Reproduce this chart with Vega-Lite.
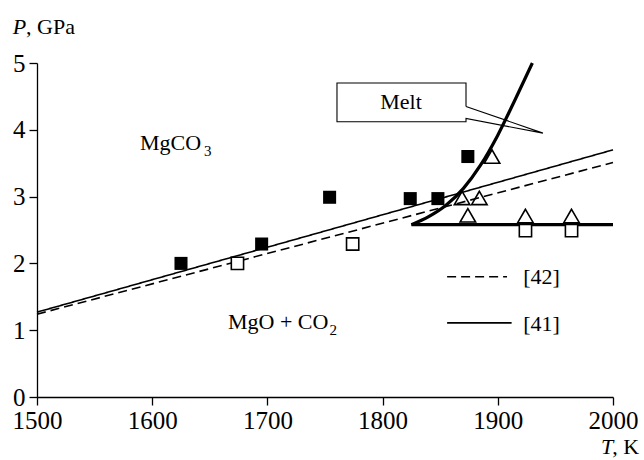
{
  "$schema": "https://vega.github.io/schema/vega-lite/v6.json",
  "width": 576,
  "height": 334,
  "autosize": {"type": "none"},
  "padding": {"left": 37, "top": 63, "right": 31, "bottom": 63},
  "background": "white",
  "config": {
    "view": {"stroke": null},
    "font": "Liberation Serif",
    "text": {"font": "Liberation Serif"},
    "axis": {
      "grid": false,
      "domainColor": "black",
      "domainWidth": 1.3,
      "title": null
    }
  },
  "datasets": {
    "lines": [
      {"T": 1500, "P": 1.27, "src": "[41]"},
      {"T": 2000, "P": 3.70, "src": "[41]"},
      {"T": 1500, "P": 1.24, "src": "[42]"},
      {"T": 2000, "P": 3.51, "src": "[42]"}
    ],
    "melt": [
      {"T": 1825, "P": 2.58, "part": "curve", "i": 0},
      {"T": 1840, "P": 2.70, "part": "curve", "i": 1},
      {"T": 1855, "P": 2.87, "part": "curve", "i": 2},
      {"T": 1870, "P": 3.12, "part": "curve", "i": 3},
      {"T": 1885, "P": 3.47, "part": "curve", "i": 4},
      {"T": 1900, "P": 3.92, "part": "curve", "i": 5},
      {"T": 1915, "P": 4.45, "part": "curve", "i": 6},
      {"T": 1930, "P": 5.0, "part": "curve", "i": 7},
      {"T": 1825, "P": 2.58, "part": "flat", "i": 0},
      {"T": 2000, "P": 2.58, "part": "flat", "i": 1}
    ],
    "points": [
      {"T": 1625, "P": 2.0, "kind": "filled"},
      {"T": 1695, "P": 2.29, "kind": "filled"},
      {"T": 1754, "P": 2.99, "kind": "filled"},
      {"T": 1824, "P": 2.97, "kind": "filled"},
      {"T": 1848, "P": 2.97, "kind": "filled"},
      {"T": 1874, "P": 3.60, "kind": "filled"},
      {"T": 1674, "P": 2.0, "kind": "open"},
      {"T": 1774, "P": 2.29, "kind": "open"},
      {"T": 1924, "P": 2.49, "kind": "open"},
      {"T": 1964, "P": 2.49, "kind": "open"},
      {"T": 1895, "P": 3.60, "kind": "tri"},
      {"T": 1869, "P": 2.98, "kind": "tri"},
      {"T": 1884, "P": 2.98, "kind": "tri"},
      {"T": 1874, "P": 2.72, "kind": "tri"},
      {"T": 1924, "P": 2.71, "kind": "tri"},
      {"T": 1964, "P": 2.71, "kind": "tri"}
    ],
    "callout": [
      {"T": 1872.4, "P": 4.35, "i": 0},
      {"T": 1872.4, "P": 4.70, "i": 1},
      {"T": 1760.4, "P": 4.70, "i": 2},
      {"T": 1760.4, "P": 4.12, "i": 3},
      {"T": 1872.4, "P": 4.12, "i": 4},
      {"T": 1872.4, "P": 4.17, "i": 5},
      {"T": 1939.2, "P": 3.95, "i": 6},
      {"T": 1872.4, "P": 4.35, "i": 7}
    ],
    "legend": [
      {"T": 1856, "P": 1.80, "src": "[42]"},
      {"T": 1908, "P": 1.80, "src": "[42]"},
      {"T": 1856, "P": 1.11, "src": "[41]"},
      {"T": 1912, "P": 1.11, "src": "[41]"}
    ],
    "xticks": [{"tick": 1600}, {"tick": 1700}, {"tick": 1800}, {"tick": 1900}, {"tick": 2000}],
    "yticks": [{"tick": 1}, {"tick": 2}, {"tick": 3}, {"tick": 4}, {"tick": 5}],
    "texts": [
      {"T": 1816, "P": 4.41, "label": "Melt", "grp": "center"},
      {"T": 1589.4, "P": 3.80, "label": "MgCO", "grp": "left"},
      {"T": 1645, "P": 3.69, "label": "3", "grp": "sub"},
      {"T": 1665.8, "P": 1.12, "label": "MgO + CO", "grp": "left"},
      {"T": 1754, "P": 1.01, "label": "2", "grp": "sub"},
      {"T": 1922, "P": 1.79, "label": "[42]", "grp": "left"},
      {"T": 1922, "P": 1.10, "label": "[41]", "grp": "left"},
      {"T": 1478.9, "P": 5.54, "label": "P", "grp": "italic"},
      {"T": 1490.5, "P": 5.54, "label": ", GPa", "grp": "left"},
      {"T": 1989.5, "P": -0.75, "label": "T", "grp": "italic"},
      {"T": 1999.3, "P": -0.75, "label": ", K", "grp": "left"}
    ]
  },
  "encoding": {
    "x": {"field": "T", "type": "quantitative", "scale": {"domain": [1500, 2000], "nice": false, "zero": false},
      "axis": {"values": [1500, 1600, 1700, 1800, 1900, 2000], "ticks": true, "tickSize": 8, "tickColor": "black", "tickWidth": 1.3, "labelPadding": 3, "labelFlush": false, "format": "d", "labelFont": "Liberation Serif", "labelFontSize": 25, "labelColor": "black",
        "encode": {"ticks": {"update": {"y2": {"value": -8}}}}}},
    "y": {"field": "P", "type": "quantitative", "scale": {"domain": [0, 5], "nice": false, "zero": false},
      "axis": {"values": [0, 1, 2, 3, 4, 5], "ticks": true, "tickSize": 8, "tickColor": "black", "tickWidth": 1.3, "labelPadding": 4, "labelFlush": false, "format": "d", "labelFont": "Liberation Serif", "labelFontSize": 25, "labelColor": "black",
        "encode": {"ticks": {"update": {"x2": {"value": 8}}}}}}
  },
  "layer": [
    {
      "data": {"name": "xticks"},
      "mark": {"type": "rule", "color": "black", "strokeWidth": 1.3},
      "encoding": {
        "x": {"field": "tick", "type": "quantitative"},
        "y": {"datum": 0},
        "y2": {"datum": 0.12}
      }
    },
    {
      "data": {"name": "yticks"},
      "mark": {"type": "rule", "color": "black", "strokeWidth": 1.3},
      "encoding": {
        "y": {"field": "tick", "type": "quantitative"},
        "x": {"datum": 1500},
        "x2": {"datum": 1507}
      }
    },
    {
      "data": {"name": "lines"},
      "mark": {"type": "line", "color": "black", "strokeWidth": 1.6},
      "encoding": {
        "detail": {"field": "src"},
        "strokeDash": {"field": "src", "type": "nominal", "scale": {"domain": ["[41]", "[42]"], "range": [[1, 0], [9, 5]]}, "legend": null}
      }
    },
    {
      "data": {"name": "legend"},
      "mark": {"type": "line", "color": "black", "strokeWidth": 1.6},
      "encoding": {
        "detail": {"field": "src"},
        "strokeDash": {"field": "src", "type": "nominal", "scale": {"domain": ["[41]", "[42]"], "range": [[1, 0], [9, 5]]}, "legend": null}
      }
    },
    {
      "data": {"name": "callout"},
      "mark": {"type": "line", "color": "black", "strokeWidth": 1.1},
      "encoding": {"order": {"field": "i", "type": "quantitative"}}
    },
    {
      "data": {"name": "melt"},
      "mark": {"type": "line", "color": "black", "strokeWidth": 3.2, "interpolate": "monotone"},
      "encoding": {"detail": {"field": "part"}, "order": {"field": "i", "type": "quantitative"}}
    },
    {
      "data": {"name": "points"},
      "transform": [{"filter": "datum.kind === 'filled'"}],
      "mark": {"type": "point", "shape": "square", "filled": true, "color": "black", "size": 170, "opacity": 1}
    },
    {
      "data": {"name": "points"},
      "transform": [{"filter": "datum.kind === 'open'"}],
      "mark": {"type": "point", "shape": "square", "filled": false, "stroke": "black", "fill": "white", "fillOpacity": 1, "strokeWidth": 1.6, "size": 150, "opacity": 1}
    },
    {
      "data": {"name": "points"},
      "transform": [{"filter": "datum.kind === 'tri'"}],
      "mark": {"type": "point", "shape": "triangle-up", "filled": false, "stroke": "black", "strokeWidth": 1.6, "size": 240, "opacity": 1}
    },
    {
      "data": {"name": "texts"},
      "transform": [{"filter": "datum.grp === 'center'"}],
      "mark": {"type": "text", "color": "black", "baseline": "middle", "align": "center", "font": "Liberation Serif", "fontSize": 22},
      "encoding": {"text": {"field": "label"}}
    },
    {
      "data": {"name": "texts"},
      "transform": [{"filter": "datum.grp === 'left'"}],
      "mark": {"type": "text", "color": "black", "baseline": "middle", "align": "left", "font": "Liberation Serif", "fontSize": 22},
      "encoding": {"text": {"field": "label"}}
    },
    {
      "data": {"name": "texts"},
      "transform": [{"filter": "datum.grp === 'italic'"}],
      "mark": {"type": "text", "color": "black", "baseline": "middle", "align": "left", "font": "Liberation Serif", "fontSize": 22, "fontStyle": "italic"},
      "encoding": {"text": {"field": "label"}}
    },
    {
      "data": {"name": "texts"},
      "transform": [{"filter": "datum.grp === 'sub'"}],
      "mark": {"type": "text", "color": "black", "baseline": "middle", "align": "left", "font": "Liberation Serif", "fontSize": 15},
      "encoding": {"text": {"field": "label"}}
    }
  ]
}
